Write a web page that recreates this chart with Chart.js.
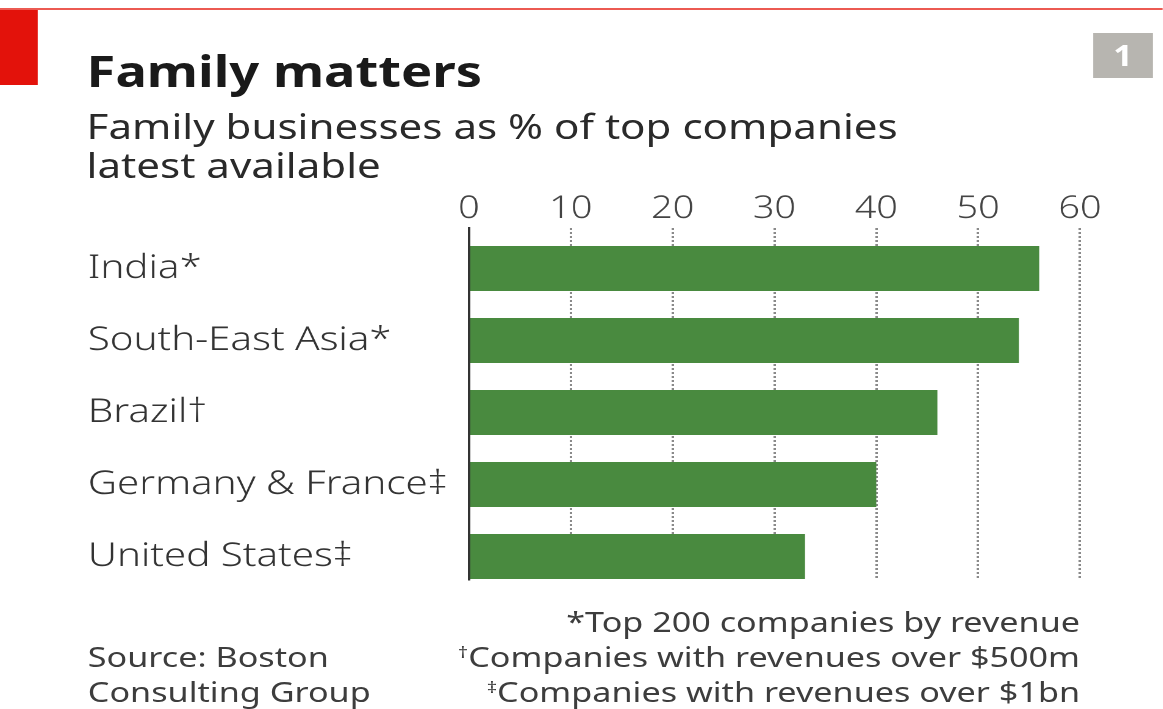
<!DOCTYPE html>
<html>
<head>
<meta charset="utf-8">
<script src="https://cdn.jsdelivr.net/npm/chart.js@4.4.1/dist/chart.umd.min.js"></script>
<style>
  body { margin: 0; background: #fff; width: 1163px; height: 709px; overflow: hidden; position: relative; font-family: "Noto Sans", sans-serif; color: #333; }
  /* a imagem original é esticada na horizontal, por isso o palco usa scaleX */
  #stage { position: absolute; left: 0; top: 0; width: 953.3px; height: 709px; transform: scaleX(1.22); transform-origin: 0 0; }
  .abs { position: absolute; white-space: nowrap; }
  #topline { left: 0; top: 8px; width: 953.3px; height: 2px; background: #ec5a52; }
  #redbox { left: 0; top: 10px; width: 31px; height: 75px; background: #e3120b; }
  #numbox { left: 896px; top: 33px; width: 49px; height: 45px; background: #b7b5b0; color: #fff; font-weight: bold; font-size: 28px; text-align: center; line-height: 45px; }
  #title { left: 71px; top: 41px; font-size: 43px; font-weight: bold; color: #1a1a1a; }
  #subtitle { left: 71px; top: 106px; font-size: 34.5px; line-height: 39px; color: #2a2a2a; }
  #notes { right: 68px; top: 604px; font-size: 28px; line-height: 35px; text-align: right; color: #3d3d3d; }
  #source { left: 72px; top: 639px; font-size: 28px; line-height: 35px; color: #3d3d3d; }
  sup { font-size: 60%; vertical-align: 0.55em; line-height: 0; }
  #wrap { position: absolute; left: 72px; top: 180px; width: 833.2px; height: 410px; }
</style>
</head>
<body>
<div id="stage">
<div class="abs" id="topline"></div>
<div class="abs" id="redbox"></div>
<div class="abs" id="numbox">1</div>
<div class="abs" id="title">Family matters</div>
<div class="abs" id="subtitle">Family businesses as % of top companies<br>latest available</div>
<div class="abs" id="notes">*Top 200 companies by revenue<br><sup>†</sup>Companies with revenues over $500m<br><sup>‡</sup>Companies with revenues over $1bn</div>
<div class="abs" id="source">Source: Boston<br>Consulting Group</div>
<div id="wrap"><canvas id="chart"></canvas></div>
</div>
<script>
// dados
const categorias = ['India*', 'South-East Asia*', 'Brazil\u2020', 'Germany & France\u2021', 'United States\u2021'];
const valores = [56, 54, 46, 40, 33];
const ticksX = [0, 10, 20, 30, 40, 50, 60];

const verde = '#498a3f';

// eixo y numérico: cada categoria é um índice (0..4)
const pontos = valores.map((v, i) => ({ x: v, y: i }));

const ctx = document.getElementById('chart').getContext('2d');
new Chart(ctx, {
    type: 'bar',
    data: {
        datasets: [{
            data: pontos,
            backgroundColor: verde,
            borderWidth: 0,
            barPercentage: 0.625,
            categoryPercentage: 1
        }]
    },
    options: {
        indexAxis: 'y',
        responsive: true,
        maintainAspectRatio: false,
        animation: false,
        devicePixelRatio: 2,
        layout: { padding: { left: 0, right: 20, top: 0, bottom: 10 } },
        plugins: {
            legend: { display: false },
            tooltip: { enabled: false }
        },
        scales: {
            x: {
                type: 'linear',
                position: 'top',
                min: 0,
                max: 60,
                afterBuildTicks: function(scale) {
                    scale.ticks = ticksX.map(v => ({ value: v }));
                },
                afterFit: function(scale) {
                    scale.height = 48;
                    scale.paddingLeft = 0;
                    scale.paddingRight = 0;
                },
                grid: {
                    drawTicks: false,
                    lineWidth: 2,
                    color: function(c) { return c.index === 0 ? 'rgba(0,0,0,0)' : '#8a8a8a'; }
                },
                border: { display: false, dash: [2, 2] },
                ticks: {
                    color: '#444',
                    padding: 0,
                    font: { family: 'Noto Sans', size: 31, weight: 300 }
                }
            },
            y: {
                type: 'linear',
                reverse: true,
                offset: false,
                min: -0.5625,
                max: 4.326,
                afterBuildTicks: function(scale) {
                    scale.ticks = categorias.map((c, i) => ({ value: i }));
                },
                afterFit: function(scale) {
                    scale.width = 312.4;
                    scale.paddingTop = 0;
                    scale.paddingBottom = 0;
                },
                grid: { display: false, offset: false },
                border: { display: true, color: '#333', width: 2 },
                ticks: {
                    crossAlign: 'far',
                    color: '#333',
                    padding: 0,
                    font: { family: 'Noto Sans', size: 33, weight: 300 },
                    callback: function(value) { return categorias[value]; }
                }
            }
        }
    }
});
</script>
</body>
</html>
